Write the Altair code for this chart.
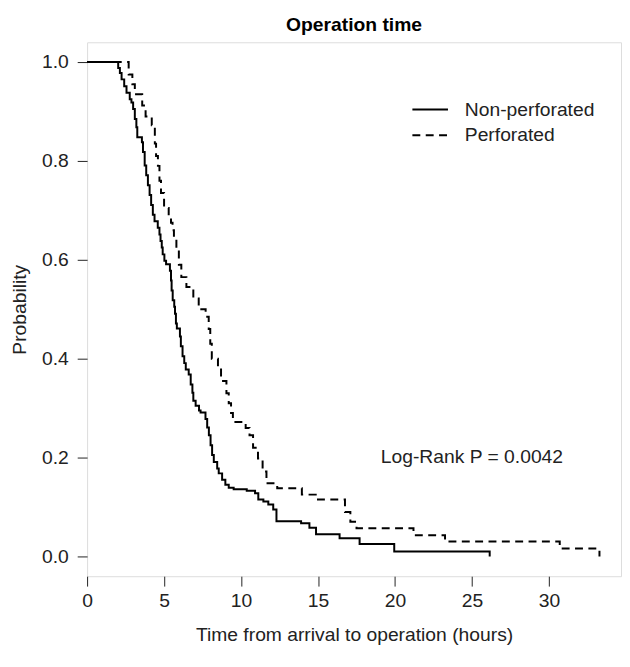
import altair as alt
import pandas as pd

# Non-perforated (solid) Kaplan-Meier steps: time (h) and survival after the step
non_t = [0, 2.02, 2.13, 2.24, 2.41, 2.56, 2.77, 2.88, 2.99, 3.10, 3.20, 3.26, 3.56, 3.63, 3.74,
         3.84, 3.95, 4.06, 4.16, 4.27, 4.38, 4.59, 4.70, 4.77, 4.85, 4.91, 5.02, 5.13, 5.38,
         5.45, 5.49, 5.56, 5.66, 5.71, 5.77, 5.83, 6.03, 6.09, 6.20, 6.31, 6.41, 6.60, 6.73,
         6.84, 6.90, 7.05, 7.27, 7.37, 7.69, 7.80, 7.91, 8.02, 8.12, 8.23, 8.45, 8.55, 8.77,
         8.98, 9.20, 9.52, 10.37, 10.91, 11.12, 11.45, 11.77, 12.09, 12.30, 13.90, 14.44,
         14.87, 16.40, 17.70, 19.95, 26.15]
non_s = [1.0, 0.988, 0.978, 0.965, 0.951, 0.938, 0.925, 0.918, 0.905, 0.885, 0.868, 0.848, 0.838,
         0.818, 0.791, 0.771, 0.751, 0.731, 0.711, 0.691, 0.678, 0.665, 0.651, 0.638, 0.625,
         0.611, 0.598, 0.591, 0.578, 0.558, 0.538, 0.518, 0.505, 0.491, 0.471, 0.461, 0.445,
         0.425, 0.405, 0.391, 0.378, 0.368, 0.348, 0.331, 0.315, 0.305, 0.295, 0.291, 0.278,
         0.261, 0.245, 0.225, 0.205, 0.191, 0.178, 0.168, 0.155, 0.145, 0.139, 0.136, 0.133,
         0.128, 0.115, 0.111, 0.105, 0.095, 0.071, 0.067, 0.058, 0.045, 0.037, 0.025, 0.010,
         0.0]

# Perforated (dashed)
per_t = [0, 2.70, 2.94, 3.10, 3.58, 3.80, 4.20, 4.40, 4.48, 4.60, 4.70, 4.80, 5.00, 5.30, 5.45,
         5.55, 5.64, 5.80, 5.96, 6.12, 6.45, 6.90, 7.25, 7.70, 7.90, 8.00, 8.10, 8.50, 8.70,
         9.05, 9.20, 9.35, 9.47, 10.30, 10.55, 10.78, 11.10, 11.40, 11.65, 12.35, 13.95,
         14.85, 16.75, 17.10, 17.50, 21.20, 23.25, 30.70, 33.28]
per_s = [1.0, 0.975, 0.955, 0.935, 0.912, 0.89, 0.872, 0.835, 0.81, 0.79, 0.76, 0.735, 0.705,
         0.69, 0.675, 0.66, 0.645, 0.62, 0.59, 0.565, 0.545, 0.522, 0.50, 0.485, 0.46, 0.43,
         0.40, 0.38, 0.355, 0.33, 0.31, 0.29, 0.272, 0.26, 0.245, 0.22, 0.198, 0.172, 0.148,
         0.138, 0.125, 0.115, 0.09, 0.07, 0.057, 0.043, 0.03, 0.016, 0.0]

x_ticks = [0, 5, 10, 15, 20, 25, 30]
y_ticks = [0.0, 0.2, 0.4, 0.6, 0.8, 1.0]
series_names = ["Non-perforated", "Perforated"]
title_text = "Operation time"
pvalue_text = "Log-Rank P = 0.0042"

FONT = "Liberation Sans"
FS = 19.5
DASH = [8, 5.5]

df_non = pd.DataFrame({"t": non_t, "s": non_s})
df_per = pd.DataFrame({"t": per_t, "s": per_s})
one = pd.DataFrame({"a": [0]})

xs = alt.Scale(domain=[0, 34.68], nice=False, zero=False)
ys = alt.Scale(domain=[-0.04, 1.04], nice=False, zero=False)

xaxis = alt.Axis(values=x_ticks, title="Time from arrival to operation (hours)", grid=False,
                 domain=False, tickSize=10, tickColor="#222", tickWidth=1,
                 labelFontSize=FS, labelFont=FONT, labelColor="#222", labelPadding=6,
                 labelFlush=False, labelOverlap=False,
                 titleFontSize=FS, titleFont=FONT, titleFontWeight="normal", titleColor="#222",
                 titlePadding=16)
yaxis = alt.Axis(values=y_ticks, format=".1f", title="Probability", grid=False,
                 domain=False, tickSize=10, tickColor="#222", tickWidth=1,
                 labelFontSize=FS, labelFont=FONT, labelColor="#222", labelPadding=9,
                 labelFlush=False, labelOverlap=False,
                 titleFontSize=FS, titleFont=FONT, titleFontWeight="normal", titleColor="#222",
                 titlePadding=12)

solid = alt.Chart(df_non).mark_line(interpolate="step-after", color="black", strokeWidth=2).encode(
    x=alt.X("t:Q", scale=xs, axis=xaxis),
    y=alt.Y("s:Q", scale=ys, axis=yaxis),
    order="t:Q",
)
dashed = alt.Chart(df_per).mark_line(interpolate="step-after", color="black", strokeWidth=2,
                                      strokeDash=DASH).encode(
    x=alt.X("t:Q", scale=xs),
    y=alt.Y("s:Q", scale=ys),
    order="t:Q",
)

leg1 = alt.Chart(one).mark_rule(color="black", strokeWidth=2).encode(
    x=alt.value(329), x2=alt.value(365), y=alt.value(68))
leg2 = alt.Chart(one).mark_rule(color="black", strokeWidth=2, strokeDash=DASH).encode(
    x=alt.value(329), x2=alt.value(365), y=alt.value(94))
leg1t = alt.Chart(one).mark_text(text=series_names[0], font=FONT, fontSize=FS, color="#222",
                                 align="left", baseline="alphabetic").encode(
    x=alt.value(382), y=alt.value(75))
leg2t = alt.Chart(one).mark_text(text=series_names[1], font=FONT, fontSize=FS, color="#222",
                                 align="left", baseline="alphabetic").encode(
    x=alt.value(382), y=alt.value(100))
ptext = alt.Chart(one).mark_text(text=pvalue_text, font=FONT, fontSize=FS, color="#222",
                                 align="left", baseline="alphabetic").encode(
    x=alt.value(297), y=alt.value(426))
ttext = alt.Chart(one).mark_text(text=title_text, font=FONT, fontSize=FS, fontWeight="bold",
                                 color="black", align="center", baseline="alphabetic").encode(
    x=alt.value(270), y=alt.value(-11))

chart = alt.layer(solid, dashed, leg1, leg2, leg1t, leg2t, ptext, ttext).properties(
    width=540, height=540,
    padding={"left": 80, "top": 31, "right": 1, "bottom": 75},
    autosize=alt.AutoSizeParams(type="none"),
).configure_view(stroke="#222", strokeWidth=1).configure(background="white")

chart.save("out.html", embed_options={"renderer": "svg", "actions": False})
